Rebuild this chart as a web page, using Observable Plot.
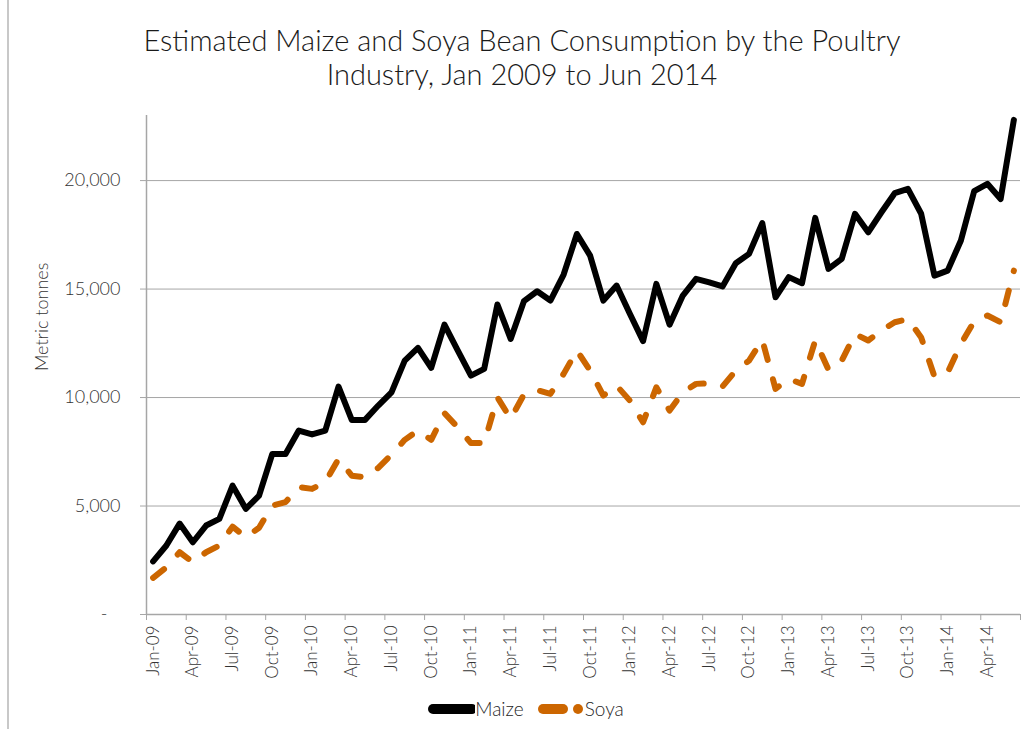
<!DOCTYPE html>
<html>
<head>
<meta charset="utf-8">
<script src="https://cdn.jsdelivr.net/npm/d3@7"></script>
<script src="https://cdn.jsdelivr.net/npm/@observablehq/plot@0.6"></script>
<style>
  html, body { margin: 0; padding: 0; background: #fff; }
  body { width: 1022px; height: 729px; position: relative; overflow: hidden; font-family: Lato, "Open Sans", sans-serif; }
  #frame { position: absolute; left: 7px; top: 0; height: 729px; border-left: 2px solid #c8c8c8; }
  #title { height: 100px; box-sizing: border-box; padding-top: 23px; padding-left: 22px; text-align: center;
           font-size: 29px; line-height: 34px; font-weight: 300; color: #1a1a1a; }
  #legend { position: absolute; left: 0; top: 697px; width: 1022px; display: flex; justify-content: center;
            align-items: center; padding-left: 30px; box-sizing: border-box; font-size: 19px; font-weight: 300; color: #262626; }
  #legend .item { display: flex; align-items: center; margin: 0 7px; }
  #legend svg { display: block; }
</style>
</head>
<body>
<div id="frame"></div>
<div id="title">Estimated Maize and Soya Bean Consumption by the Poultry<br>Industry, Jan 2009 to Jun 2014</div>
<div id="chart"></div>
<div id="legend">
  <div class="item"><svg width="47" height="14"><line x1="5" y1="7" x2="44" y2="7" stroke="#000" stroke-width="10" stroke-linecap="round"/></svg><span>Maize</span></div>
  <div class="item"><svg width="47" height="14"><line x1="5" y1="7" x2="25" y2="7" stroke="#cc6600" stroke-width="10" stroke-linecap="round"/><circle cx="40" cy="7" r="5" fill="#cc6600"/></svg><span>Soya</span></div>
</div>
<script>
// Monthly values, Jan 2009 .. Jun 2014 (66 months), metric tonnes
const maize = [
  2450, 3180, 4190, 3330, 4100, 4410, 5940, 4870, 5480, 7400, 7400, 8480,
  8300, 8480, 10500, 8970, 8970, 9630, 10240, 11700, 12290, 11370, 13360, 12170,
  11010, 11320, 14290, 12700, 14440, 14900, 14470, 15670, 17540, 16540, 14470, 15160,
  13860, 12600, 15240, 13360, 14700, 15470, 15310, 15120, 16190, 16620, 18040, 14620,
  15550, 15270, 18280, 15930, 16390, 18470, 17620, 18540, 19420, 19620, 18470, 15620,
  15850, 17240, 19510, 19850, 19150, 22800
];
const soya = [
  1690, 2180, 2870, 2410, 2870, 3180, 4050, 3560, 4000, 5020, 5180, 5870,
  5790, 6100, 7170, 6400, 6330, 6760, 7370, 8050, 8480, 8050, 9280, 8630,
  7900, 7900, 10010, 9020, 10140, 10340, 10170, 11090, 12170, 11240, 10090, 10550,
  9860, 8860, 10470, 9400, 10240, 10630, 10660, 10510, 11240, 11700, 12660, 10400,
  10860, 10630, 12630, 11280, 11700, 12930, 12630, 13090, 13470, 13620, 12770, 10970,
  11160, 12470, 13510, 13780, 13470, 15850
];
const tickLabels = [
  "Jan-09","Apr-09","Jul-09","Oct-09","Jan-10","Apr-10","Jul-10","Oct-10",
  "Jan-11","Apr-11","Jul-11","Oct-11","Jan-12","Apr-12","Jul-12","Oct-12",
  "Jan-13","Apr-13","Jul-13","Oct-13","Jan-14","Apr-14"
];
const yTicks = [5000, 10000, 15000, 20000];

const n = maize.length;
const labelPos = tickLabels.map((_, k) => k * 3);
const boundaryPos = d3.range(0, n + 1, 3).map(i => i - 0.5);
const fmt = d3.format(",");
const axisColor = "#a6a6a6";
const textColor = "#333333";

const chart = Plot.plot({
  width: 1022,
  height: 590,
  marginTop: 15,
  marginLeft: 146,
  marginRight: 2,
  marginBottom: 76,
  x: { domain: [-0.5, n - 0.5], axis: null },
  y: { domain: [0, 23000], axis: null },
  style: { fontFamily: "Lato, 'Open Sans', sans-serif", fontSize: "18px", fontWeight: 300, color: textColor, background: "transparent" },
  marks: [
    Plot.gridY(yTicks, { stroke: axisColor, strokeOpacity: 1, strokeWidth: 1 }),
    Plot.ruleY([0], { stroke: axisColor, strokeWidth: 1.5 }),
    Plot.ruleX([-0.5], { stroke: axisColor, strokeWidth: 1.5 }),
    Plot.axisY({ ticks: yTicks, tickFormat: fmt, tickSize: 6, tickPadding: 20, stroke: axisColor,
                 fontSize: 18, fill: textColor }),
    Plot.axisY({ ticks: [0], tickFormat: () => "-", tickSize: 6, tickPadding: 33, stroke: axisColor,
                 fontSize: 18, fill: textColor }),
    Plot.text(["Metric tonnes"], { frameAnchor: "left", dx: -104, dy: 6, rotate: -90, fontSize: 18,
                 fill: textColor }),
    Plot.axisX({ ticks: boundaryPos, tickFormat: () => "", tickSize: 6, stroke: axisColor }),
    Plot.axisX({ ticks: labelPos, tickFormat: (i) => tickLabels[i / 3], tickSize: 0, tickPadding: 11,
                 tickRotate: -90, fontSize: 17, fill: textColor }),
    Plot.line(soya, { x: (d, i) => i, y: d => d, stroke: "#cc6600", strokeWidth: 6,
                 strokeLinecap: "round", strokeLinejoin: "round", strokeDasharray: "14,20" }),
    Plot.line(maize, { x: (d, i) => i, y: d => d, stroke: "#000", strokeWidth: 6,
                 strokeLinecap: "round", strokeLinejoin: "round" })
  ]
});
document.getElementById("chart").appendChild(chart);
</script>
</body>
</html>
